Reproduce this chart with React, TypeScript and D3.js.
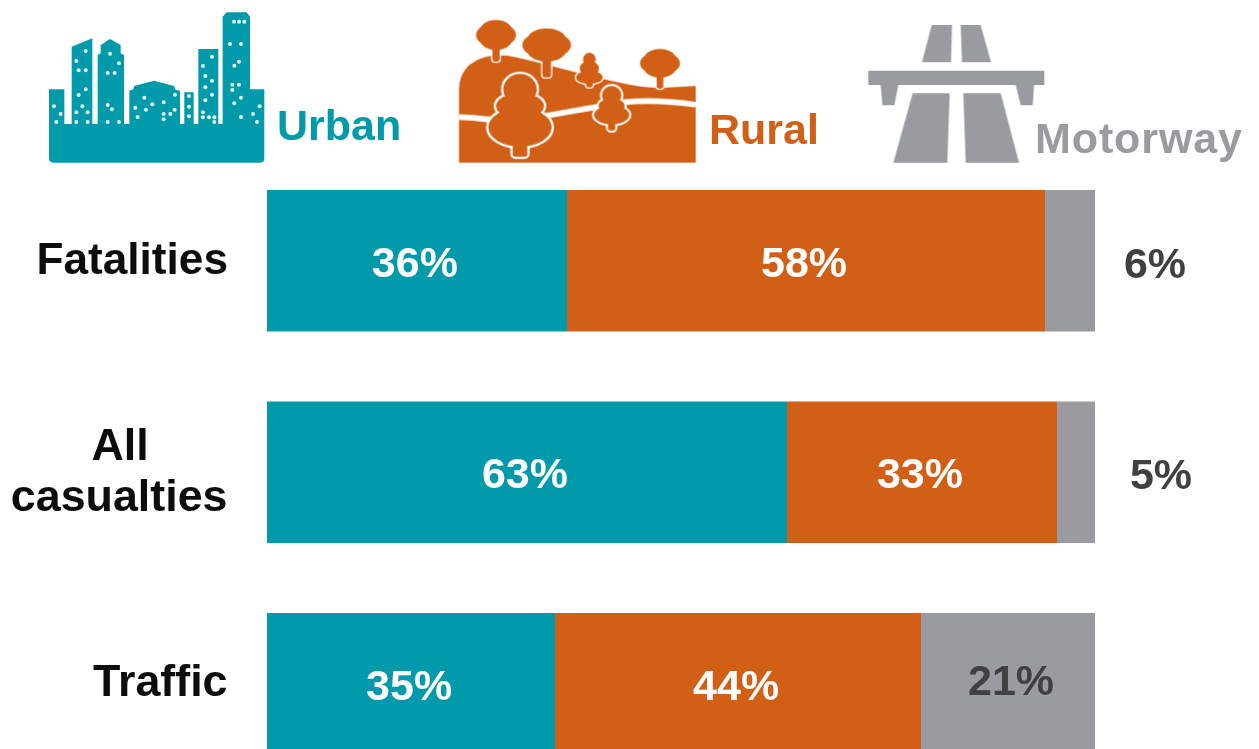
import React from 'react';
import * as d3 from 'd3';

const categories = ['Fatalities', 'All casualties', 'Traffic'];
const seriesNames = ['Urban', 'Rural', 'Motorway'];
const urbanValues = [36.2, 62.8, 34.8];
const ruralValues = [57.8, 32.6, 44.2];
const motorwayValues = [6.0, 4.6, 21.0];

const TEAL = '#009aab';
const ORANGE = '#d25f15';
const GREY = '#9a9b9f';
const FONT = '"Liberation Sans", Arial, sans-serif';

const colors = d3.scaleOrdinal<string, string>().domain(seriesNames).range([TEAL, ORANGE, GREY]);

// table for d3.stack
const rows = categories.map((name, i) => ({
  name,
  Urban: urbanValues[i],
  Rural: ruralValues[i],
  Motorway: motorwayValues[i],
}));
const stacked = d3.stack<any>().keys(seriesNames)(rows);

const x = d3.scaleLinear().domain([0, 100]).range([267, 1095]);
// last bar runs off the bottom of the picture
const y = d3.scaleBand().domain(categories).range([190, 754.5]).paddingInner(0.331).paddingOuter(0);

// lit windows on the skyline icon
const windows = [
  [72, 319], [92, 342], [79, 366], [167, 153], [139, 183], [146, 211], [167, 211], [167, 268],
  [146, 285], [157, 319], [139, 337], [173, 337], [139, 366], [173, 366], [240, 161], [267, 190],
  [233, 219], [254, 219], [233, 315], [246, 328], [233, 366], [267, 366], [343, 293], [316, 323],
  [348, 329], [367, 313], [401, 307], [323, 351], [401, 342], [421, 342], [434, 329], [401, 358],
  [435, 284], [477, 288], [477, 320], [477, 349], [546, 170], [519, 198], [526, 228], [546, 242],
  [526, 262], [546, 284], [526, 301], [519, 337], [519, 352], [537, 352], [553, 352], [553, 366],
  [612, 65], [627, 65], [643, 65], [600, 132], [633, 132], [627, 185], [613, 197], [607, 254],
  [627, 254], [607, 270], [633, 293], [613, 310], [633, 351], [669, 342], [689, 319], [681, 366],
];

const skyline =
  'M57 268H103V372H125V140L187 115V372H203V165L212 160V135L240 117L272 135V160L282 165V372H298V272L310 268L312 258L372 242L432 258L437 270L450 272V372H463V277H491V372H505V147H565V372H578V50L590 37H650L660 50V268H703V475Q703 488 690 488H70Q57 488 57 475Z';

const land =
  'M57 488V265Q60 190 140 170Q170 160 230 172Q290 185 400 215Q490 238 540 248Q600 262 660 264L767 258V488Z';
const road = 'M57 351Q100 352 140 358Q230 358 320 347L480 319Q600 290 767 314';

// ellipses (cx, cy, rx, ry) plus a stem (half width, bottom) for each tree
type Tree = { parts: number[][]; stem: number[]; halo: number };
const lobed = (cx: number, cy: number, rx: number, ry: number) => [
  [cx, cy, rx, ry * 0.8],
  [cx, cy - ry * 0.3, rx * 0.8, ry * 0.7],
  [cx, cy + ry * 0.3, rx * 0.8, ry * 0.7],
];
const trees: Tree[] = [
  { parts: lobed(168, 105, 60, 45), stem: [168, 11, 185], halo: 4 },
  { parts: lobed(320, 135, 73, 50), stem: [320, 13, 232], halo: 4 },
  { parts: [[448, 178, 19, 20], [448, 205, 29, 22], [448, 232, 40, 20]], stem: [448, 10, 262], halo: 4 },
  { parts: lobed(660, 190, 60, 43), stem: [660, 10, 266], halo: 4 },
  { parts: [[240, 268, 50, 46], [240, 318, 72, 38], [240, 382, 95, 58]], stem: [240, 22, 470], halo: 7 },
  { parts: [[515, 286, 29, 28], [515, 318, 39, 24], [515, 345, 53, 28]], stem: [515, 11, 392], halo: 6 },
];

const treeShapes = (t: Tree, extra: number, fill: string) => {
  const stemTop = t.parts[t.parts.length - 1][1];
  return (
    <g fill={fill} stroke={extra ? fill : 'none'} strokeWidth={extra * 2}>
      {t.parts.map((p, i) => (
        <ellipse key={i} cx={p[0]} cy={p[1]} rx={p[2]} ry={p[3]} />
      ))}
      <rect x={t.stem[0] - t.stem[1]} y={stemTop} width={t.stem[1] * 2} height={t.stem[2] - stemTop} rx={8} />
    </g>
  );
};

const motorwayPolys = [
  '245,75 306,75 303,187 216,187',
  '332,75 392,75 423,187 336,187',
  '55,212 583,212 583,255 552,255 548,316 512,316 497,255 145,255 133,316 97,316 92,255 55,255',
  '188,280 299,280 292,488 130,488',
  '340,280 452,280 507,488 347,488',
];

const rowLabelStyle = { fontFamily: FONT, fontWeight: 700, fontSize: 44.8, fill: '#111' };
const valueStyle = { fontFamily: FONT, fontWeight: 700, fontSize: 43, textAnchor: 'middle' as const };
const legendStyle = { fontFamily: FONT, fontWeight: 700, fontSize: 43 };

export default function App() {
  return (
    <svg width={1259} height={749} style={{ position: 'absolute', left: 0, top: 0, background: '#fff' }}>
      <defs>
        <filter id="soft" x="-5%" y="-5%" width="110%" height="110%">
          <feGaussianBlur stdDeviation="0.7" />
        </filter>
      </defs>
      <g filter="url(#soft)">
        {/* icons, drawn in 3x units */}
        <g transform="translate(30,0) scale(0.3333)">
          <path d={skyline} fill={TEAL} />
          {windows.map((w, i) => (
            <circle key={i} cx={w[0]} cy={w[1]} r={6} fill="#e4f5f6" />
          ))}
        </g>
        <g transform="translate(440,0) scale(0.3333)">
          <path d={land} fill={ORANGE} />
          <path d={road} fill="none" stroke="#fff" strokeWidth={17} />
          {trees.map((t, i) => (
            <g key={i}>
              {treeShapes(t, t.halo, '#fff')}
              {treeShapes(t, 0, ORANGE)}
            </g>
          ))}
        </g>
        <g transform="translate(850,0) scale(0.3333)" fill={GREY}>
          {motorwayPolys.map((p, i) => (
            <polygon key={i} points={p} />
          ))}
        </g>

        <text x={277} y={140} fill={TEAL} style={legendStyle}>{seriesNames[0]}</text>
        <text x={709} y={144} fill={ORANGE} style={legendStyle}>{seriesNames[1]}</text>
        <text x={1035} y={153} fill={GREY} letterSpacing={0.9} style={legendStyle}>{seriesNames[2]}</text>

        {stacked.map((s) =>
          s.map((d, i) => (
            <rect
              key={s.key + i}
              x={Math.round(x(d[0]))}
              y={y(categories[i])}
              width={Math.round(x(d[1])) - Math.round(x(d[0]))}
              height={y.bandwidth()}
              fill={colors(s.key)}
            />
          ))
        )}

        {stacked.map((s) =>
          s.map((d, i) => {
            const value = d[1] - d[0];
            const mid = y(categories[i])! + y.bandwidth() / 2;
            const outside = value < 10;
            const cx = outside ? x(100) + (i === 1 ? 66 : 60) : (x(d[0]) + x(d[1])) / 2 - 2 + (s.key === 'Motorway' ? 5 : 0);
            const dy = s.key !== 'Motorway' ? 16 : i === 2 ? 11 : 17;
            return (
              <text
                key={s.key + i}
                x={cx}
                y={mid + dy}
                fill={s.key === 'Motorway' ? '#404040' : '#fff'}
                style={valueStyle}
              >
                {Math.round(value)}%
              </text>
            );
          })
        )}

        <text x={228} y={274} textAnchor="end" style={{ ...rowLabelStyle, fontSize: 44.2 }}>Fatalities</text>
        <text x={120} y={460} textAnchor="middle" style={rowLabelStyle}>All</text>
        <text x={227.5} y={511} textAnchor="end" style={rowLabelStyle}>casualties</text>
        <text x={227.5} y={696} textAnchor="end" style={rowLabelStyle}>Traffic</text>
      </g>
    </svg>
  );
}
